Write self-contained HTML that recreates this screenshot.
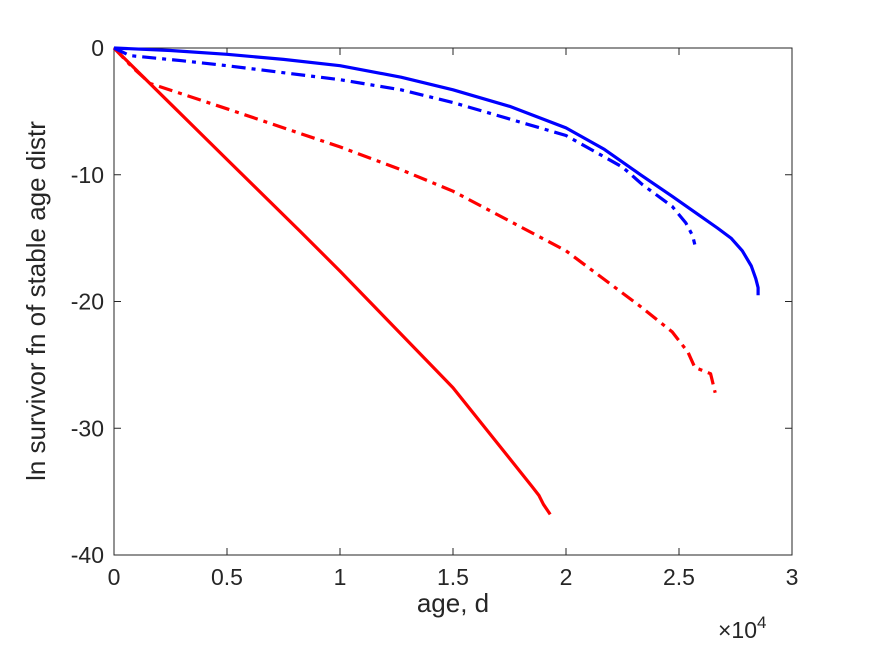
<!DOCTYPE html>
<html><head><meta charset="utf-8"><style>
body{margin:0;background:#fff}
svg text{font-family:"Liberation Sans",sans-serif;fill:#262626}
</style></head><body>
<svg id="chart" width="875" height="656" xmlns="http://www.w3.org/2000/svg">
<rect width="875" height="656" fill="#fff"/>
<g id="axes"></g>
<g id="lines"></g>
</svg>
<script>
const xTicks=[0,0.5,1,1.5,2,2.5,3];
const xTickLabels=["0","0.5","1","1.5","2","2.5","3"];
const yTicks=[0,-10,-20,-30,-40];
const yTickLabels=["0","-10","-20","-30","-40"];
const blueSolidX=[0,0.25,0.5,0.75,1,1.27,1.5,1.75,2,2.17,2.33,2.47,2.59,2.67,2.73,2.78,2.82,2.84,2.85,2.85];
const blueSolidY=[0,-0.2,-0.5,-0.9,-1.4,-2.3,-3.3,-4.6,-6.3,-8.0,-10,-11.7,-13.2,-14.2,-15,-16,-17.2,-18.2,-18.9,-19.5];
const blueDashX=[0,0.07,0.3,0.5,1,1.27,1.5,2,2.25,2.34,2.47,2.53,2.56,2.57];
const blueDashY=[0,-0.6,-1.0,-1.4,-2.5,-3.3,-4.3,-6.9,-9.4,-10.8,-12.5,-13.8,-14.8,-15.5];
const redSolidX=[0,0.25,0.5,0.82,1,1.5,1.85,1.88,1.9,1.93];
const redSolidY=[0,-4.4,-8.8,-14.4,-17.6,-26.8,-34.6,-35.3,-36,-36.8];
const redDashX=[0,0.08,0.16,0.5,1,1.27,1.5,2,2.33,2.47,2.54,2.57,2.64,2.66];
const redDashY=[0,-1.5,-2.8,-4.8,-7.8,-9.6,-11.3,-16,-20.4,-22.4,-24,-25.2,-25.7,-27.2];

const L=114,R=792,T=48,B=555;
const xs=v=>L+(v-0)/3*(R-L);
const ys=v=>T+(0-v)/40*(B-T);
const NS="http://www.w3.org/2000/svg";
const ax=document.getElementById('axes'),ln=document.getElementById('lines');
function mk(tag,attrs,parent){const e=document.createElementNS(NS,tag);for(const k in attrs)e.setAttribute(k,attrs[k]);parent.appendChild(e);return e;}
const box=mk('rect',{x:L,y:T,width:R-L,height:B-T,fill:'none',stroke:'#262626','stroke-width':1},ax);


xTicks.forEach((v,i)=>{
  const x=xs(v);
  const t1=mk('line',{x1:x,x2:x,y1:B,y2:B-7,stroke:'#262626'},ax);
  
  
  mk('line',{x1:x,x2:x,y1:T,y2:T+7,stroke:'#262626'},ax);
  const tx=mk('text',{x:x,y:B+30,'text-anchor':'middle','font-size':23},ax);
  tx.textContent=xTickLabels[i];
  
  
});
yTicks.forEach((v,i)=>{
  const y=ys(v);
  const t1=mk('line',{x1:L,x2:L+7,y1:y,y2:y,stroke:'#262626'},ax);
  
  
  mk('line',{x1:R,x2:R-7,y1:y,y2:y,stroke:'#262626'},ax);
  const tx=mk('text',{x:L-10,y:y+8,'text-anchor':'end','font-size':23},ax);
  tx.textContent=yTickLabels[i];
  
  
});
const xl=mk('text',{x:453,y:612,'text-anchor':'middle','font-size':26},ax);
xl.textContent='age, d';


const ex=mk('text',{x:718,y:638,'font-size':23},ax);
ex.innerHTML='×10<tspan dy="-10" font-size="17">4</tspan>';


const yl=mk('text',{x:0,y:0,'text-anchor':'middle','font-size':26,transform:'translate(45,301) rotate(-90)'},ax);
yl.textContent='ln survivor fn of stable age distr';


function series(X,Y,color,dash,name){
  const d=X.map((x,i)=>(i?'L':'M')+xs(x).toFixed(1)+','+ys(Y[i]).toFixed(1)).join('');
  const p=mk('path',{d:d,fill:'none',stroke:color,'stroke-width':3.2,'stroke-linejoin':'round'},ln);
  if(dash)p.setAttribute('stroke-dasharray',dash);
  
  
}
series(redSolidX,redSolidY,'#ff0000',null,'red-solid-line');
series(redDashX,redDashY,'#ff0000','14,6,4,6','red-dashdot-line');
series(blueDashX,blueDashY,'#0000ff','14,6,4,6','blue-dashdot-line');
series(blueSolidX,blueSolidY,'#0000ff',null,'blue-solid-line');
</script>
</body></html>
